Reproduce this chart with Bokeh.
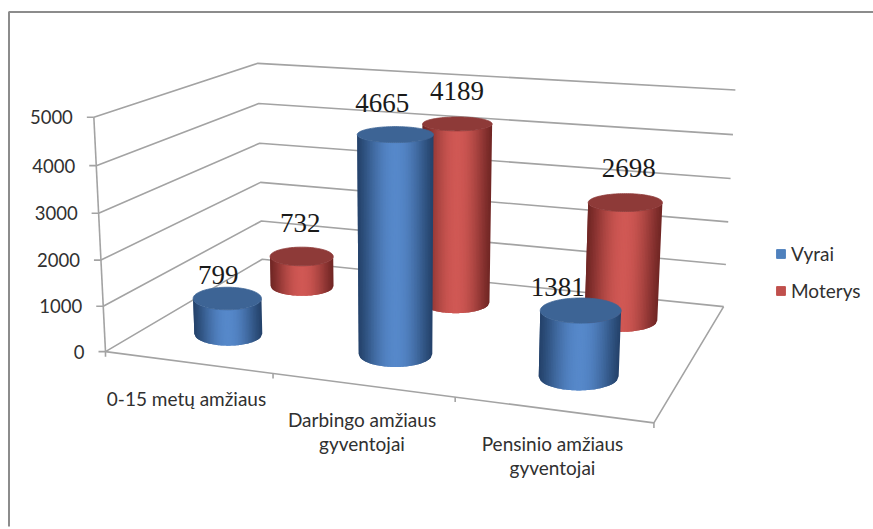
import numpy as np
from bokeh.plotting import figure, ColumnDataSource
from bokeh.models import Legend, LegendItem
from bokeh.core.properties import value
from bokeh.embed import file_html
from bokeh.resources import INLINE

categories = ["0-15 metų amžiaus", "Darbingo amžiaus\ngyventojai", "Pensinio amžiaus\ngyventojai"]
series_names = ["Vyrai", "Moterys"]
vyrai = [799, 4665, 1381]
moterys = [732, 4189, 2698]
y_ticks = [0, 1000, 2000, 3000, 4000, 5000]

# style / layout
BLUE = dict(edge=(36, 66, 106), mid=(86, 136, 202), top="#3d6495", swatch="#4f81bd")
RED = dict(edge=(112, 38, 36), mid=(208, 88, 84), top="#8e3a38", swatch="#c0504d")
GRID = "#a3a3a3"
TXT = "#303030"
W, H = 873, 529
RU, RV = 0.212, 0.115
ROW_V = {0: 0.26, 1: 0.765}
ROW_U = {0: [-0.016, -0.013, 0.0], 1: [-0.008, -0.008, -0.008]}

# calibration of the 3D box: box coordinates (u, v, thousands) <-> page pixels
box = [(0,0,0),(0,0,1),(0,0,2),(0,0,3),(0,0,4),(0,0,5),
       (0,1,0),(0,1,1),(0,1,2),(0,1,3),(0,1,4),(0,1,5),
       (3,1,0),(3,1,1),(3,1,2),(3,1,3),(3,1,4),(3,1,5),
       (3,0,0),(1,0,0),(2,0,0)]
pix = [(105,351),(103,305),(100,259),(99,212),(96,165),(93,117),
       (262,258),(261,221),(260,182),(259,143),(258,103),(257,63),
       (723,306),(726,264),(727,221),(730,178),(733,134),(735,90),
       (653,421),(272,375),(455,398)]

A = []
for (a, b, c), (x, y) in zip(box, pix):
    A.append([a, b, c, 1, 0, 0, 0, 0, -x*a, -x*b, -x*c, -x])
    A.append([0, 0, 0, 0, a, b, c, 1, -y*a, -y*b, -y*c, -y])
CAM = np.linalg.svd(np.array(A, float))[2][-1].reshape(3, 4)

def proj(u, v, val):
    u, v, z = np.broadcast_arrays(np.asarray(u, float), np.asarray(v, float), np.asarray(val, float) / 1000)
    q = CAM @ np.stack([u, v, z, np.ones_like(u)])
    return q[0] / q[2], q[1] / q[2]

def hexc(c):
    return "#%02x%02x%02x" % tuple(int(round(k)) for k in c)

p = figure(width=W, height=H, x_range=(0, W), y_range=(H, 0), output_backend="svg",
           toolbar_location=None, min_border=0, outline_line_color=None, background_fill_color="white")
p.axis.visible = False
p.grid.visible = False

# outer frame
p.multi_line([[8.5, 8.5, 873], ], [[526, 11.5, 11.5], ], line_color="#8c8c8c", line_width=2)

# walls and floor
xs, ys = [], []
for t in y_ticks:
    x, y = proj([0, 0, 3], [0, 1, 1], t)
    xs.append(list(x)); ys.append(list(y))
    x0, y0 = proj(0, 0, t)
    xs.append([float(x0) - 7, float(x0)]); ys.append([float(y0), float(y0)])
x, y = proj([0, 3, 3], [0, 0, 1], 0); xs.append(list(x)); ys.append(list(y))
x, y = proj([0, 0], [0, 0], [0, y_ticks[-1]]); xs.append(list(x)); ys.append(list(y))
for u in range(4):
    x, y = proj(u, 0, 0)
    xs.append([float(x), float(x)]); ys.append([float(y), float(y) + 5])
p.multi_line(xs, ys, line_color=GRID, line_width=1.6)

def ellipse_at(u, v, val):
    """A level circle seen through the box camera, drawn with a horizontal major axis."""
    cx, cy = proj(u, v, val)
    xl, _ = proj(u - RU, v, val)
    xr, _ = proj(u + RU, v, val)
    _, yf = proj(u, v - RV, val)
    _, yb = proj(u, v + RV, val)
    return float(cx), float((yf + yb) / 2), float(xr - xl) / 2, float(yf - yb) / 2

SLICES = 48

def cylinder(u, v, val, st):
    th = np.arccos(np.linspace(1, -1, SLICES + 1))      # front half, equal widths, right to left
    th = np.concatenate([th, np.full(2, np.pi)])
    bcx, bcy, brx, bry = ellipse_at(u, v, 0)
    tcx, tcy, trx, try_ = ellipse_at(u, v, val)
    bx, by = bcx + brx * np.cos(th), bcy + bry * np.sin(th)
    tx, ty = tcx + trx * np.cos(th), tcy + try_ * np.sin(th)
    pxs, pys, cols = [], [], []
    for a in range(SLICES):
        # each slice runs under the next one, so that no seams show
        pxs.append([bx[a], *bx[a + 1:a + 3], *tx[a + 1:a + 3][::-1], tx[a]])
        pys.append([by[a], *by[a + 1:a + 3], *ty[a + 1:a + 3][::-1], ty[a]])
        t = (a + 0.5) / SLICES
        s = np.sin(np.pi * t) ** 1.2
        cols.append(hexc(np.array(st["edge"]) + (np.array(st["mid"]) - np.array(st["edge"])) * s))
    src = ColumnDataSource(dict(x=pxs, y=pys, c=cols))
    p.patches("x", "y", source=src, fill_color="c", line_color=None)
    full = np.linspace(0, 2 * np.pi, 121)
    p.patch(list(tcx + trx * np.cos(full)), list(tcy + try_ * np.sin(full)),
            fill_color=st["top"], line_color=st["top"], line_width=0.8)
    return tcx, tcy

tops = {}
for i, val in enumerate(moterys):
    tops[(1, i)] = cylinder(i + 0.5 + ROW_U[1][i], ROW_V[1], val, RED)
    tops[(0, i)] = cylinder(i + 0.5 + ROW_U[0][i], ROW_V[0], vyrai[i], BLUE)

# data labels
LABEL_OFF = {(0, 0): (-9, -24), (1, 0): (-1.5, -33), (0, 1): (-13, -32), (1, 1): (-0.5, -33), (0, 2): (-23, -24), (1, 2): (3.5, -35)}
lx, ly, lt = [], [], []
for (s, i), (cx, cy) in tops.items():
    dx, dy = LABEL_OFF[(s, i)]
    lx.append(cx + dx); ly.append(cy + dy)
    lt.append(str((vyrai if s == 0 else moterys)[i]))
p.text(lx, ly, text=lt, text_font=value("Liberation Serif"), text_font_size="27px", text_color="#1a1a1a",
       text_align="center", text_baseline="middle")

# value axis labels
tx0, ty0 = proj(0, 0, y_ticks)
p.text(list(tx0 - 21), list(ty0), text=[str(t) for t in y_ticks], text_font=value("Lato"), text_font_size="18.5px",
       text_color=TXT, text_align="right", text_baseline="middle")

# category labels
CAT_POS = [(186, 398), (361.5, 431), (552, 455)]
p.text([a for a, b in CAT_POS], [b for a, b in CAT_POS], text=categories, text_font=value("Lato"),
       text_font_size="19px", text_color=TXT, text_align="center", text_baseline="middle", text_line_height=1.06)

# legend
r1 = p.quad(left=[-50], right=[-40], top=[-50], bottom=[-40], fill_color=BLUE["swatch"], line_color=BLUE["swatch"])
r2 = p.quad(left=[-50], right=[-40], top=[-50], bottom=[-40], fill_color=RED["swatch"], line_color=RED["swatch"])
leg = Legend(items=[LegendItem(label=series_names[0], renderers=[r1]), LegendItem(label=series_names[1], renderers=[r2])],
             location=(775, 227), orientation="vertical", glyph_width=11, glyph_height=11, spacing=14, padding=0,
             margin=0, border_line_color=None, background_fill_alpha=0, label_text_font="Lato",
             label_text_font_size="19px", label_text_color=TXT, label_standoff=5)
p.add_layout(leg, "center")

open("out.html", "w").write(file_html(p, INLINE))
